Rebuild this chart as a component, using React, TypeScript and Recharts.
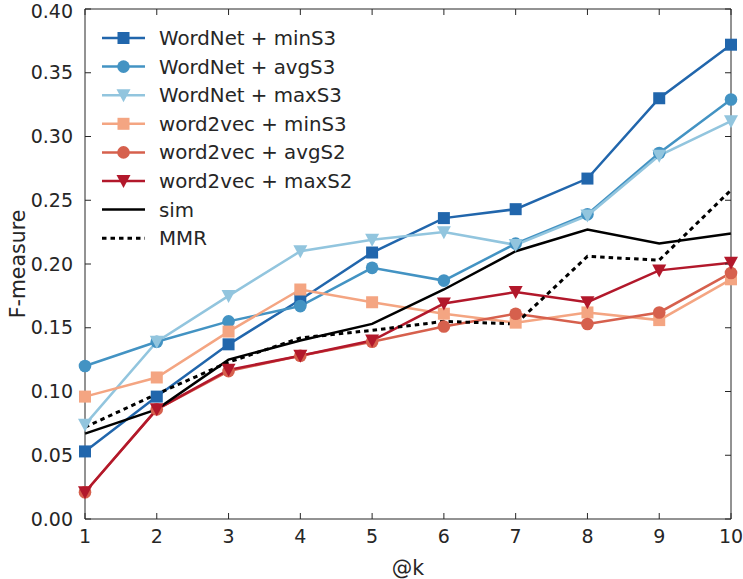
import { LineChart, Line, XAxis, YAxis } from 'recharts'

const ks = [1, 2, 3, 4, 5, 6, 7, 8, 9, 10]
const wordnetMin = [0.053, 0.096, 0.137, 0.172, 0.209, 0.236, 0.243, 0.267, 0.330, 0.372]
const wordnetAvg = [0.120, 0.139, 0.155, 0.167, 0.197, 0.187, 0.216, 0.239, 0.287, 0.329]
const wordnetMax = [0.074, 0.139, 0.175, 0.210, 0.219, 0.225, 0.215, 0.238, 0.285, 0.312]
const w2vMin = [0.096, 0.111, 0.147, 0.180, 0.170, 0.161, 0.154, 0.162, 0.156, 0.188]
const w2vAvg = [0.021, 0.086, 0.116, 0.128, 0.139, 0.151, 0.161, 0.153, 0.162, 0.193]
const w2vMax = [0.021, 0.086, 0.117, 0.128, 0.140, 0.169, 0.178, 0.170, 0.195, 0.201]
const sim = [0.067, 0.086, 0.125, 0.140, 0.153, 0.180, 0.210, 0.227, 0.216, 0.224]
const mmr = [0.072, 0.098, 0.123, 0.142, 0.148, 0.155, 0.153, 0.206, 0.203, 0.258]
const yTicks = [0, 0.05, 0.1, 0.15, 0.2, 0.25, 0.3, 0.35, 0.4]

type Marker = 'square' | 'circle' | 'tri' | 'none'
const series: { key: string; name: string; color: string; marker: Marker; dash?: string; width: number }[] = [
  { key: 'wnMin', name: 'WordNet + minS3', color: '#2166ac', marker: 'square', width: 2.5 },
  { key: 'wnAvg', name: 'WordNet + avgS3', color: '#4393c3', marker: 'circle', width: 2.5 },
  { key: 'wnMax', name: 'WordNet + maxS3', color: '#92c5de', marker: 'tri', width: 2.5 },
  { key: 'wvMin', name: 'word2vec + minS3', color: '#f4a582', marker: 'square', width: 2.5 },
  { key: 'wvAvg', name: 'word2vec + avgS2', color: '#d6604d', marker: 'circle', width: 2.5 },
  { key: 'wvMax', name: 'word2vec + maxS2', color: '#b2182b', marker: 'tri', width: 2.5 },
  { key: 'sim', name: 'sim', color: '#000000', marker: 'none', width: 2.5 },
  { key: 'mmr', name: 'MMR', color: '#000000', marker: 'none', dash: '4.5 4', width: 3 },
]

const data = ks.map((k, i) => ({
  k,
  wnMin: wordnetMin[i],
  wnAvg: wordnetAvg[i],
  wnMax: wordnetMax[i],
  wvMin: w2vMin[i],
  wvAvg: w2vAvg[i],
  wvMax: w2vMax[i],
  sim: sim[i],
  mmr: mmr[i],
}))

const FONT = '"DejaVu Sans", sans-serif'
const AXIS = '#262626'

function drawMarker(marker: Marker, color: string, cx: number, cy: number, key?: string | number) {
  if (marker === 'square') return <rect key={key} x={cx - 6} y={cy - 6} width={12} height={12} fill={color} />
  if (marker === 'circle') return <circle key={key} cx={cx} cy={cy} r={6.3} fill={color} />
  if (marker === 'tri')
    return <polygon key={key} points={`${cx - 7},${cy - 6} ${cx + 7},${cy - 6} ${cx},${cy + 7}`} fill={color} />
  return <g key={key} />
}

function ChartLegend() {
  return (
    <svg width={300} height={240} style={{ position: 'absolute', left: 95, top: 22 }}>
      {series.map((s, i) => {
        const y = 16 + i * 28.6
        return (
          <g key={s.key}>
            <line x1={7} x2={50} y1={y} y2={y} stroke={s.color} strokeWidth={s.width} strokeDasharray={s.dash} />
            {drawMarker(s.marker, s.color, 28.5, y)}
            <text x={64} y={y + 7} fontSize={19.8} fontFamily={FONT} fill="#262626">
              {s.name}
            </text>
          </g>
        )
      })}
    </svg>
  )
}

export default function App() {
  return (
    <div style={{ position: 'absolute', left: 0, top: 0, width: 743, height: 579, background: '#fff' }}>
      <LineChart width={743} height={579} data={data} margin={{ top: -21, right: -28, bottom: 0, left: 25 }}>
        <XAxis
          dataKey="k"
          type="number"
          domain={[1, 10]}
          ticks={ks}
          height={60}
          stroke={AXIS}
          tickSize={-6}
          tickMargin={17}
          tick={{ fontSize: 19, fontFamily: FONT, fill: AXIS }}
          label={{ value: '@k', position: 'insideBottom', offset: 4, fontSize: 20.5, fontFamily: FONT, fill: AXIS }}
        />
        <XAxis
          xAxisId="top"
          orientation="top"
          dataKey="k"
          type="number"
          domain={[1, 10]}
          ticks={ks}
          height={30}
          stroke={AXIS}
          tickSize={-6}
          tick={{ fill: 'transparent' }}
        />
        <YAxis
          domain={[0, 0.4]}
          ticks={yTicks}
          width={60}
          stroke={AXIS}
          tickSize={-6}
          tickMargin={18}
          tickFormatter={(v: number) => v.toFixed(2)}
          tick={{ fontSize: 19, fontFamily: FONT, fill: AXIS }}
          label={{ value: 'F-measure', angle: -90, position: 'center', dx: -37, fontSize: 20.5, fontFamily: FONT, fill: AXIS }}
        />
        <YAxis
          yAxisId="right"
          orientation="right"
          domain={[0, 0.4]}
          ticks={yTicks}
          width={40}
          stroke={AXIS}
          tickSize={-6}
          tick={{ fill: 'transparent' }}
        />
        {/* transparent copy of one series, tied to the top/right axes so the frame is drawn */}
        <Line
          xAxisId="top"
          yAxisId="right"
          dataKey="sim"
          stroke="transparent"
          dot={false}
          activeDot={false}
          isAnimationActive={false}
        />
        {series.map((s) => (
          <Line
            key={s.key}
            dataKey={s.key}
            name={s.name}
            stroke={s.color}
            strokeWidth={s.width}
            strokeDasharray={s.dash}
            isAnimationActive={false}
            dot={s.marker === 'none' ? false : (p: any) => drawMarker(s.marker, s.color, p.cx, p.cy, p.index)}
            activeDot={false}
          />
        ))}
      </LineChart>
      <ChartLegend />
    </div>
  )
}
